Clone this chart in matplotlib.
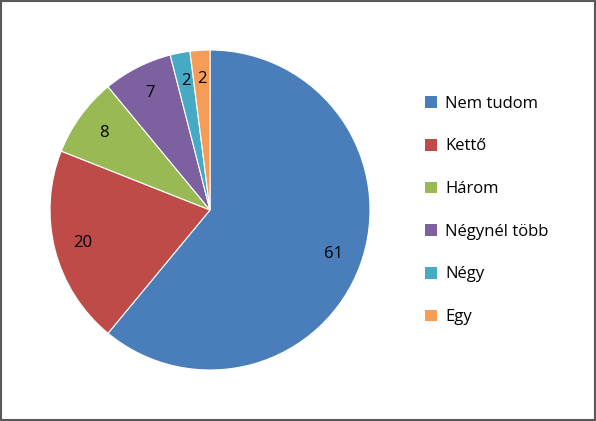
import matplotlib
matplotlib.use("Agg")
import matplotlib.pyplot as plt
from matplotlib.patches import Patch, Rectangle

labels = ["Nem tudom", "Kettő", "Három", "Négynél több", "Négy", "Egy"]
values = [61, 20, 8, 7, 2, 2]
colors = ["#4A7EBB", "#BE4B48", "#98B954", "#7D60A0", "#46AAC5", "#F59D56"]

plt.rcParams['font.family'] = ['Open Sans', 'DejaVu Sans']
fig = plt.figure(figsize=(5.96, 4.21), dpi=100)
fig.patches.append(Rectangle((0.002, 0.002), 0.996, 0.995, transform=fig.transFigure,
                             fill=False, edgecolor="#595959", linewidth=1.5))
ax = fig.add_axes([50/596, 51/421, 320/596, 320/421])
wedges, texts, autotexts = ax.pie(values, colors=colors, startangle=90, counterclock=False,
       autopct=lambda p: f"{p:.0f}", pctdistance=0.82, frame=False,
       wedgeprops=dict(edgecolor="white", linewidth=0.8),
       textprops=dict(fontsize=12, color="black"))
ax.set_xlim(-1, 1)
ax.set_ylim(-1, 1)
ax.set_aspect("equal")
ax.axis("off")
handles = [Patch(facecolor=c, label=l) for c, l in zip(colors, labels)]
fig.legend(handles=handles, loc="center left", bbox_to_anchor=(410/596, 0.5), frameon=False,
           fontsize=12, handlelength=0.7, handleheight=0.7, labelspacing=1.6, handletextpad=0.5)
fig.savefig("out.png", dpi=100)
